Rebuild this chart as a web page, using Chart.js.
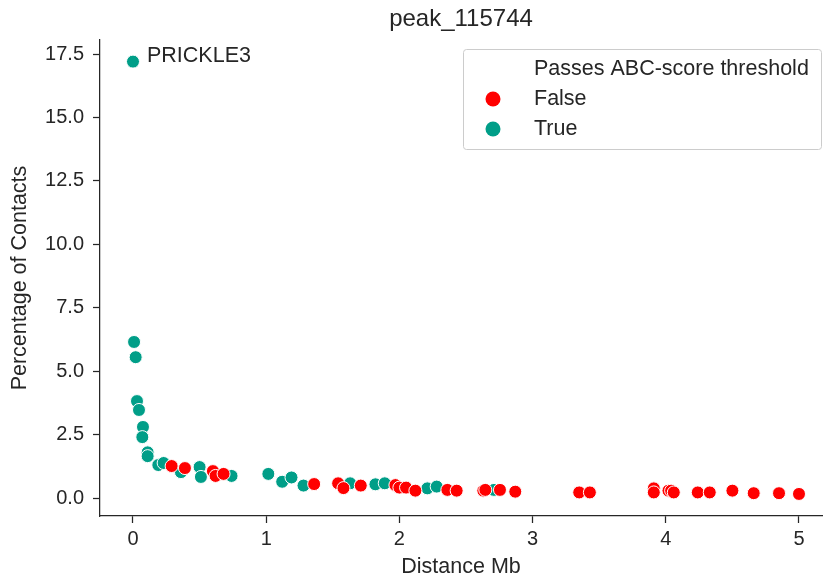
<!DOCTYPE html>
<html>
<head>
<meta charset="utf-8">
<script src="https://cdn.jsdelivr.net/npm/chart.js@4.4.0/dist/chart.umd.min.js"></script>
<style>
  html, body { margin: 0; padding: 0; background: #fff; }
  #wrap { width: 823px; height: 579px; }
</style>
</head>
<body>
<div id="wrap"><canvas id="chart1"></canvas></div>
<script>
// distance (Mb) and % contacts
const trueX = [0, 0.008, 0.02, 0.03, 0.045, 0.075, 0.07, 0.11, 0.11, 0.19, 0.23, 0.36, 0.50, 0.51, 0.74,
  1.016, 1.12, 1.19, 1.28, 1.63, 1.82, 1.89, 2.21, 2.28, 2.71];
const trueY = [17.2, 6.15, 5.55, 3.82, 3.47, 2.8, 2.4, 1.8, 1.65, 1.30, 1.38, 1.02, 1.22, 0.83, 0.87,
  0.95, 0.64, 0.81, 0.49, 0.58, 0.54, 0.58, 0.38, 0.45, 0.32];
const falseX = [0.29, 0.39, 0.60, 0.62, 0.68, 1.36, 1.54, 1.58, 1.71, 1.97, 2.00, 2.05, 2.12, 2.36, 2.43,
  2.63, 2.645, 2.755, 2.87, 3.35, 3.43, 3.91, 3.91, 4.02, 4.04, 4.06, 4.24, 4.33, 4.50, 4.66, 4.85, 5.0];
const falseY = [1.26, 1.18, 1.06, 0.87, 0.95, 0.55, 0.58, 0.39, 0.49, 0.51, 0.41, 0.41, 0.29, 0.32, 0.29,
  0.29, 0.32, 0.32, 0.25, 0.22, 0.22, 0.38, 0.22, 0.29, 0.29, 0.22, 0.22, 0.22, 0.29, 0.19, 0.19, 0.16];
const xTicks = [0, 1, 2, 3, 4, 5];
const yTicks = [0, 2.5, 5, 7.5, 10, 12.5, 15, 17.5];
const labelGene = 'PRICKLE3';
const labelAt = [0, 17.2];

const ink = '#262626';
const font = 'Liberation Sans, Arial, sans-serif';
const pts = (xs, ys) => xs.map((x, i) => ({ x: x, y: ys[i] }));

const extras = {
  id: 'extras',
  afterDatasetsDraw(chart) {
    const c = chart.ctx, sx = chart.scales.x, sy = chart.scales.y;
    c.save();
    // gene label next to the top point
    c.fillStyle = ink;
    c.font = '21.5px ' + font;
    c.textBaseline = 'middle';
    c.fillText(labelGene, sx.getPixelForValue(labelAt[0]) + 14, sy.getPixelForValue(labelAt[1]) - 6);

    // legend box, seaborn style
    const bx = 463.5, by = 49.5, bw = 358, bh = 100;
    c.fillStyle = 'rgba(255,255,255,0.85)';
    c.strokeStyle = '#cccccc';
    c.lineWidth = 1;
    c.beginPath();
    c.roundRect(bx, by, bw, bh, 3);
    c.fill();
    c.stroke();
    c.fillStyle = ink;
    c.fillText('Passes ABC-score threshold', 534, 69);
    chart.data.datasets.forEach((ds, i) => {
      const yy = 99 + i * 30;
      c.beginPath();
      c.arc(493, yy, 7.5, 0, Math.PI * 2);
      c.fillStyle = ds.backgroundColor;
      c.fill();
      c.fillStyle = ink;
      c.fillText(ds.label, 534, yy);
    });
    c.restore();
  }
};

new Chart(document.getElementById('chart1').getContext('2d'), {
  type: 'scatter',
  data: {
    datasets: [
      {
        label: 'False',
        data: pts(falseX, falseY),
        backgroundColor: '#ff0000',
        borderColor: '#ffffff',
        borderWidth: 1,
        pointRadius: 6.5,
        pointHoverRadius: 6.5
      },
      {
        label: 'True',
        data: pts(trueX, trueY),
        backgroundColor: '#009e88',
        borderColor: '#ffffff',
        borderWidth: 1,
        pointRadius: 6.5,
        pointHoverRadius: 6.5
      }
    ]
  },
  options: {
    responsive: true,
    maintainAspectRatio: false,
    animation: false,
    layout: { autoPadding: false, padding: { left: 0, right: 1, top: 0, bottom: 0 } },
    plugins: {
      legend: { display: false },
      tooltip: { enabled: false },
      title: {
        display: true,
        text: 'peak_115744',
        fullSize: false,
        color: ink,
        font: { family: font, size: 24, weight: 'normal' },
        padding: { top: 5, bottom: 6.2 }
      }
    },
    scales: {
      x: {
        type: 'linear',
        min: -0.2477,
        max: 5.1727,
        afterFit: s => { s.height = 63; },
        afterBuildTicks: s => { s.ticks = xTicks.map(v => ({ value: v })); },
        ticks: {
          color: ink,
          font: { family: font, size: 20 },
          padding: 4,
          callback: v => String(v)
        },
        grid: { drawOnChartArea: false, drawTicks: true, tickLength: 7, color: ink, tickWidth: 1.25 },
        border: { display: true, color: ink, width: 1.25 },
        title: {
          display: true,
          text: 'Distance Mb',
          color: ink,
          font: { family: font, size: 21.5 },
          padding: { top: 4, bottom: -1 }
        }
      },
      y: {
        type: 'linear',
        min: -0.709,
        max: 18.052,
        afterFit: s => { s.width = 100; },
        afterBuildTicks: s => { s.ticks = yTicks.map(v => ({ value: v })); },
        ticks: {
          color: ink,
          font: { family: font, size: 20 },
          padding: 9,
          callback: v => Number(v).toFixed(1)
        },
        grid: { drawOnChartArea: false, drawTicks: true, tickLength: 7, color: ink, tickWidth: 1.25 },
        border: { display: true, color: ink, width: 1.25 },
        title: {
          display: true,
          text: 'Percentage of Contacts',
          color: ink,
          font: { family: font, size: 21.5 },
          padding: { top: 7, bottom: 4 }
        }
      }
    }
  },
  plugins: [extras]
});
</script>
</body>
</html>
